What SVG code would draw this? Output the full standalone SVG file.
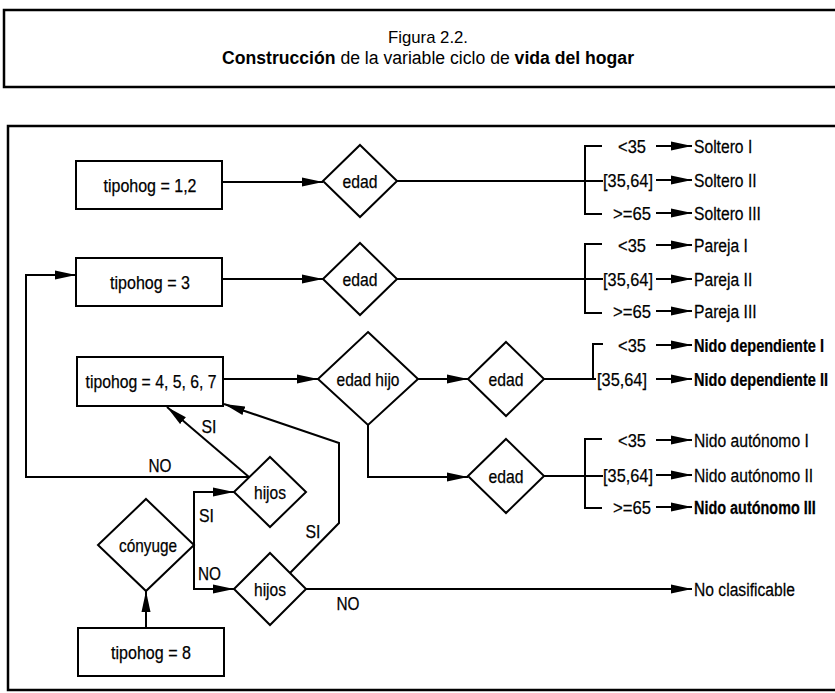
<svg xmlns="http://www.w3.org/2000/svg" width="835" height="693" viewBox="0 0 835 693">
<defs>
<style>
text{font-family:"Liberation Sans",Arial,Helvetica,sans-serif;font-size:19px;fill:#000;stroke:#000;stroke-width:0.25}
.t{stroke:none}
.c{text-anchor:middle}
.b{font-weight:bold}
.frame{fill:none;stroke:#000;stroke-width:2.5}
.node{fill:#fff;stroke:#000;stroke-width:2}
.ln{fill:none;stroke:#000;stroke-width:2}
.ar{fill:none;stroke:#000;stroke-width:2;marker-end:url(#ah)}
</style>
<marker id="ah" markerUnits="userSpaceOnUse" markerWidth="22" markerHeight="10" refX="21" refY="5" orient="auto">
<path d="M0,0.5 L21,5 L0,9.5 z" fill="#000"/>
</marker>
</defs>
<rect width="835" height="693" fill="#fff"/>

<g id="title">
<rect class="frame" x="4" y="10" width="840" height="77"/>
<text class="c t" x="428" y="43" style="font-size:17px" textLength="80" lengthAdjust="spacingAndGlyphs">Figura 2.2.</text>
<text class="c t" x="428" y="64" style="font-size:18px" textLength="412" lengthAdjust="spacingAndGlyphs"><tspan class="b">Construcción</tspan> de la variable ciclo de <tspan class="b">vida del hogar</tspan></text>
</g>

<rect class="frame" x="8" y="126" width="840" height="564"/>

<g id="connectors">
<path class="ar" d="M222,182 H323"/>
<path class="ar" d="M222,279 H323"/>
<path class="ln" d="M397,181 H603"/>
<path class="ln" d="M602,146 H585 V214 H602"/>
<path class="ln" d="M397,279 H603"/>
<path class="ln" d="M602,244 H585 V313 H602"/>
<path class="ar" d="M223,379 H318"/>
<path class="ar" d="M418,379 H468"/>
<path class="ar" d="M368,424 V477 H468"/>
<path class="ln" d="M544,379 H596"/>
<path class="ln" d="M603,344 H593 V379"/>
<path class="ln" d="M544,476 H603"/>
<path class="ln" d="M602,439 H585 V508 H602"/>
<path class="ar" d="M249,477 H26 V275 H76"/>
<path class="ar" d="M249,477 L167,407"/>
<path class="ar" d="M194,545 V492 H234"/>
<path class="ar" d="M194,545 V589 H234"/>
<path class="ar" d="M290,573 L339,523 V443 L224,404"/>
<path class="ar" d="M306,589 H692"/>
<path class="ar" d="M146,628 V591"/>
<path class="ar" d="M656,146 H692"/>
<path class="ar" d="M656,180 H692"/>
<path class="ar" d="M656,213 H692"/>
<path class="ar" d="M656,245 H692"/>
<path class="ar" d="M656,279 H692"/>
<path class="ar" d="M656,311 H692"/>
<path class="ar" d="M656,345 H692"/>
<path class="ar" d="M656,379 H692"/>
<path class="ar" d="M656,440 H692"/>
<path class="ar" d="M656,475 H692"/>
<path class="ar" d="M656,507 H692"/>
</g>

<g id="edge-labels">
<text class="c" x="160" y="472" textLength="23" lengthAdjust="spacingAndGlyphs">NO</text>
<text class="c" x="209" y="433" textLength="15" lengthAdjust="spacingAndGlyphs">SI</text>
<text x="199" y="522" textLength="15" lengthAdjust="spacingAndGlyphs">SI</text>
<text x="198" y="580" textLength="23" lengthAdjust="spacingAndGlyphs">NO</text>
<text class="c" x="313" y="538" textLength="15" lengthAdjust="spacingAndGlyphs">SI</text>
<text class="c" x="348" y="610" textLength="23" lengthAdjust="spacingAndGlyphs">NO</text>
</g>

<g id="n-tipohog12"><rect class="node" x="76" y="161" width="146" height="48"/><text class="c" x="150" y="192" textLength="93" lengthAdjust="spacingAndGlyphs">tipohog = 1,2</text></g>
<g id="n-tipohog3"><rect class="node" x="76" y="258" width="146" height="48"/><text class="c" x="150" y="289" textLength="80" lengthAdjust="spacingAndGlyphs">tipohog = 3</text></g>
<g id="n-tipohog4567"><rect class="node" x="77" y="357" width="146" height="49"/><text class="c" x="151" y="388" textLength="131" lengthAdjust="spacingAndGlyphs">tipohog = 4, 5, 6, 7</text></g>
<g id="n-tipohog8"><rect class="node" x="78" y="628" width="146" height="48"/><text class="c" x="151" y="659" textLength="80" lengthAdjust="spacingAndGlyphs">tipohog = 8</text></g>

<g id="d-edad1"><path class="node" d="M360,145 L397,181 L360,217 L323,181 z"/><text class="c" x="360" y="188" textLength="35" lengthAdjust="spacingAndGlyphs">edad</text></g>
<g id="d-edad2"><path class="node" d="M360,243 L397,279 L360,315 L323,279 z"/><text class="c" x="360" y="286" textLength="35" lengthAdjust="spacingAndGlyphs">edad</text></g>
<g id="d-edadhijo"><path class="node" d="M368,332 L418,379 L368,425 L318,379 z"/><text class="c" x="368" y="386" textLength="63" lengthAdjust="spacingAndGlyphs">edad hijo</text></g>
<g id="d-edad3"><path class="node" d="M506,342 L544,379 L506,416 L468,379 z"/><text class="c" x="506" y="386" textLength="35" lengthAdjust="spacingAndGlyphs">edad</text></g>
<g id="d-edad4"><path class="node" d="M506,439 L544,476 L506,513 L468,476 z"/><text class="c" x="506" y="483" textLength="35" lengthAdjust="spacingAndGlyphs">edad</text></g>
<g id="d-hijos1"><path class="node" d="M270,457 L306,492 L270,527 L234,492 z"/><text class="c" x="270" y="499" textLength="32" lengthAdjust="spacingAndGlyphs">hijos</text></g>
<g id="d-conyuge"><path class="node" d="M146,499 L194,545 L146,591 L98,545 z"/><text class="c" x="148" y="552" textLength="58" lengthAdjust="spacingAndGlyphs">cónyuge</text></g>
<g id="d-hijos2"><path class="node" d="M270,553 L306,589 L270,625 L234,589 z"/><text class="c" x="270" y="596" textLength="32" lengthAdjust="spacingAndGlyphs">hijos</text></g>

<g id="outcomes">
<text x="618" y="153" textLength="28" lengthAdjust="spacingAndGlyphs">&lt;35</text><text transform="matrix(0.824,0,0,1,694,153)">Soltero I</text>
<text x="603" y="187" textLength="50" lengthAdjust="spacingAndGlyphs">[35,64]</text><text transform="matrix(0.824,0,0,1,694,187)">Soltero II</text>
<text x="613" y="220" textLength="38" lengthAdjust="spacingAndGlyphs">&gt;=65</text><text transform="matrix(0.824,0,0,1,694,220)">Soltero III</text>
<text x="618" y="252" textLength="28" lengthAdjust="spacingAndGlyphs">&lt;35</text><text transform="matrix(0.824,0,0,1,694,252)">Pareja I</text>
<text x="603" y="286" textLength="50" lengthAdjust="spacingAndGlyphs">[35,64]</text><text transform="matrix(0.824,0,0,1,694,286)">Pareja II</text>
<text x="613" y="318" textLength="38" lengthAdjust="spacingAndGlyphs">&gt;=65</text><text transform="matrix(0.824,0,0,1,694,318)">Pareja III</text>
<text x="618" y="352" textLength="28" lengthAdjust="spacingAndGlyphs">&lt;35</text><text class="b" transform="matrix(0.765,0,0,1,694,352)">Nido dependiente I</text>
<text x="597" y="386" textLength="50" lengthAdjust="spacingAndGlyphs">[35,64]</text><text class="b" transform="matrix(0.765,0,0,1,694,386)">Nido dependiente II</text>
<text x="618" y="447" textLength="28" lengthAdjust="spacingAndGlyphs">&lt;35</text><text transform="matrix(0.824,0,0,1,694,447)">Nido autónomo I</text>
<text x="603" y="482" textLength="50" lengthAdjust="spacingAndGlyphs">[35,64]</text><text transform="matrix(0.824,0,0,1,694,482)">Nido autónomo II</text>
<text x="613" y="514" textLength="38" lengthAdjust="spacingAndGlyphs">&gt;=65</text><text class="b" transform="matrix(0.76,0,0,1,694,514)">Nido autónomo III</text>
<text transform="matrix(0.824,0,0,1,694,596)">No clasificable</text>
</g>
</svg>
